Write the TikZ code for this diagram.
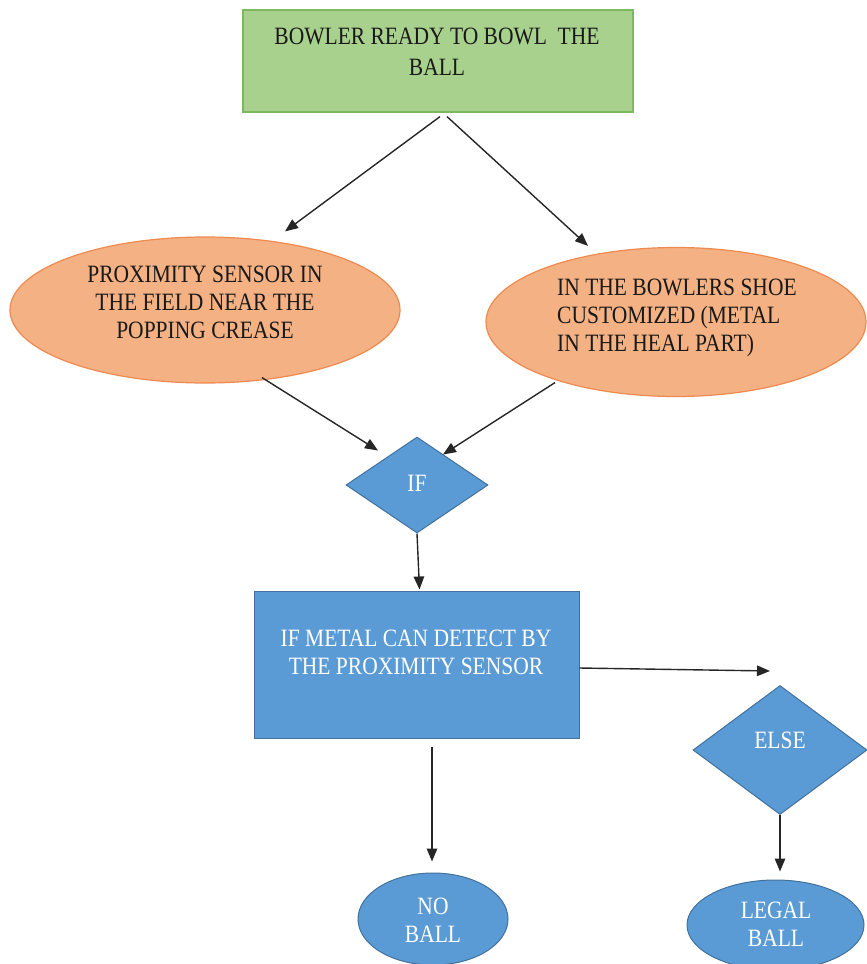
\documentclass[tikz,border=0pt]{standalone}
\usepackage{fontspec}
\usepackage{graphicx}
\setmainfont{Liberation Serif}
\usetikzlibrary{shapes.geometric,arrows.meta,calc}
\definecolor{gfill}{HTML}{A9D18E}
\definecolor{gline}{HTML}{7DB85A}
\definecolor{ofill}{HTML}{F4B183}
\definecolor{oline}{HTML}{EE8A50}
\definecolor{bfill}{HTML}{5B9BD5}
\definecolor{bline}{HTML}{41719C}
\newcommand\tallt[2][c]{\scalebox{1}[1.16]{\begin{tabular}{@{}#1@{}}#2\end{tabular}}}
\begin{document}
\begin{tikzpicture}[x=1pt,y=-1pt,
  arr/.style={-{Triangle[length=13pt,width=10.5pt]}, line width=1.4pt, black!85},
  greenbox/.style={draw=gline, fill=gfill, line width=1.2pt, inner sep=0},
  orangeell/.style={ellipse, draw=oline, fill=ofill, line width=1.2pt, inner sep=0},
  bluebox/.style={draw=bline, fill=bfill, line width=1pt, inner sep=0},
  bluedia/.style={diamond, draw=bline, fill=bfill, line width=1pt, inner sep=0},
  blueell/.style={ellipse, draw=bline, fill=bfill, line width=1pt, inner sep=0},
  dtxt/.style={font=\fontsize{21.5}{24}\selectfont, text=black!90, inner sep=0},
  wtxt/.style={font=\fontsize{21.5}{24}\selectfont, text=white, inner sep=0},
]
\useasboundingbox (0,0) rectangle (867,964);

% shapes
\node[greenbox, minimum width=390pt, minimum height=102pt] (top) at (438,61) {};
\node[orangeell, minimum width=390pt, minimum height=146pt] (lell) at (205,310) {};
\node[orangeell, minimum width=380pt, minimum height=149pt] (rell) at (676,322) {};
\node[bluedia, minimum width=142pt, minimum height=96pt] (ifd) at (417,485) {};
\node[bluebox, minimum width=325pt, minimum height=147pt] (rect) at (416.5,664.5) {};
\node[bluedia, minimum width=174pt, minimum height=129pt] (elsed) at (780,750) {};
\node[blueell, minimum width=150pt, minimum height=92pt] (nob) at (433,919) {};
\node[blueell, minimum width=177pt, minimum height=90pt] (legal) at (775.5,925) {};

% texts
\node[dtxt, font=\fontsize{21.5}{26}\selectfont] (toptxt) at (437,54) {\tallt{BOWLER READY TO BOWL\ \ THE\\BALL}};
\node[dtxt] (ltxt) at (205,305) {\tallt{PROXIMITY SENSOR IN\\THE FIELD NEAR THE\\POPPING CREASE}};
\node[dtxt, anchor=west] (rtxt) at (557,318) {\tallt[l]{IN THE BOWLERS SHOE\\CUSTOMIZED (METAL\\IN THE HEAL PART)}};
\node[wtxt] (iftxt) at (417,486) {\tallt{IF}};
\node[wtxt] (recttxt) at (416,655) {\tallt{IF METAL CAN DETECT BY\\THE PROXIMITY SENSOR}};
\node[wtxt] (elsetxt) at (780,743) {\tallt{ELSE}};
\node[wtxt] (nobtxt) at (433,923) {\tallt{NO\\BALL}};
\node[wtxt] (legaltxt) at (776,927) {\tallt{LEGAL\\BALL}};

% connectors
\draw[arr] ($(top.south)+(2,4)$) -- ($(lell.north)+(80,-5)$);
\draw[arr] ($(top.south)+(9,4)$) -- ($(rell.north)+(-88,-1)$);
\draw[arr] ($(lell.south)+(57,-6)$) -- ($(ifd.north)+(-39,14)$);
\draw[arr] ($(rell.south)+(-121,-14.5)$) -- ($(ifd.north)+(26,18)$);
\draw[arr] (ifd.south) -- ($(rect.north)+(3,-1)$);
\draw[arr] ($(rect.east)+(0,3.5)$) -- ($(elsed.north)+(-10,-14)$);
\draw[arr] ($(rect.south)+(15.5,8)$) -- ($(nob.north)+(-1,-11)$);
\draw[arr] (elsed.south) -- ($(legal.north)+(4.5,-8)$);
\end{tikzpicture}
\end{document}
